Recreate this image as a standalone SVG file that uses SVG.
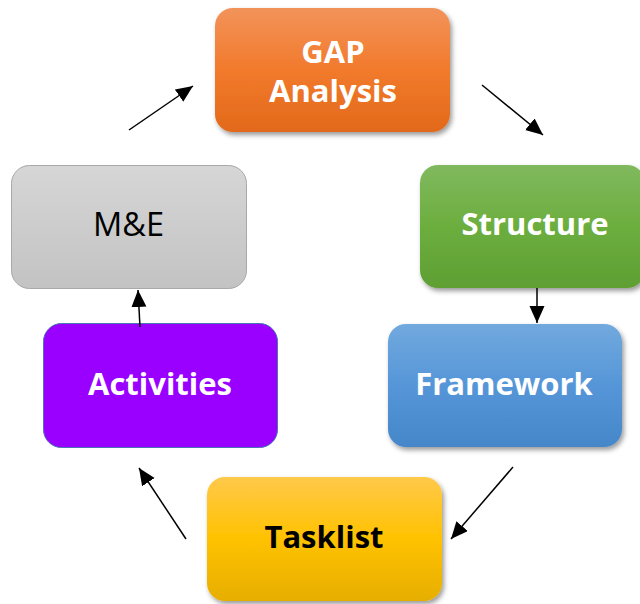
<svg xmlns="http://www.w3.org/2000/svg" width="640" height="604" viewBox="0 0 640 604">
<style>
.lbl{font-family:"Open Sans","Liberation Sans",sans-serif;font-size:31px;font-weight:bold;text-anchor:middle}
.w{fill:#ffffff}
.k{fill:#000000}
.reg{font-weight:normal;font-size:32.5px}
.conn line{stroke:#000;stroke-width:1.5;marker-end:url(#ah)}
</style>
<defs>
<marker id="ah" markerUnits="userSpaceOnUse" markerWidth="18" markerHeight="16" refX="17" refY="7.5" orient="auto">
<path d="M0,0 L17,7.5 L0,15 z" fill="#000"/>
</marker>
<filter id="sh" x="-10%" y="-10%" width="125%" height="130%">
<feDropShadow dx="2" dy="3" stdDeviation="2.5" flood-color="#000" flood-opacity="0.4"/>
</filter>
<linearGradient id="gOr" x1="0" y1="0" x2="0" y2="1"><stop offset="0" stop-color="#f2935a"/><stop offset="0.5" stop-color="#f27a2c"/><stop offset="1" stop-color="#e2691a"/></linearGradient>
<linearGradient id="gGr" x1="0" y1="0" x2="0" y2="1"><stop offset="0" stop-color="#80b95e"/><stop offset="0.5" stop-color="#6cae3e"/><stop offset="1" stop-color="#5f9f33"/></linearGradient>
<linearGradient id="gBl" x1="0" y1="0" x2="0" y2="1"><stop offset="0" stop-color="#72a9de"/><stop offset="0.5" stop-color="#5596d8"/><stop offset="1" stop-color="#4587c9"/></linearGradient>
<linearGradient id="gYe" x1="0" y1="0" x2="0" y2="1"><stop offset="0" stop-color="#ffc94a"/><stop offset="0.5" stop-color="#ffc200"/><stop offset="1" stop-color="#e6ae00"/></linearGradient>
<linearGradient id="gGy" x1="0" y1="0" x2="0" y2="1"><stop offset="0" stop-color="#d6d6d6"/><stop offset="1" stop-color="#c3c3c3"/></linearGradient>
</defs>
<g id="gap">
<rect x="215" y="8" width="235" height="124" rx="18" fill="url(#gOr)" filter="url(#sh)"/>
<text class="lbl w" x="333" y="63">GAP</text>
<text class="lbl w" x="333" y="102">Analysis</text>
</g>
<g id="structure">
<rect x="420" y="165" width="225" height="123" rx="18" fill="url(#gGr)" filter="url(#sh)"/>
<text class="lbl w" x="535" y="235">Structure</text>
</g>
<g id="framework">
<rect x="388" y="324" width="234" height="123" rx="18" fill="url(#gBl)" filter="url(#sh)"/>
<text class="lbl w" x="504" y="395">Framework</text>
</g>
<g id="tasklist">
<rect x="207" y="477" width="235" height="124" rx="18" fill="url(#gYe)" filter="url(#sh)"/>
<text class="lbl k" x="324" y="548">Tasklist</text>
</g>
<g id="activities">
<rect x="43.5" y="323.5" width="234" height="124" rx="18" fill="#9900ff" stroke="#4a74b4" stroke-width="1"/>
<text class="lbl w" x="160" y="395">Activities</text>
</g>
<g id="me">
<rect x="11.5" y="165.5" width="235" height="123" rx="18" fill="url(#gGy)" stroke="#a8a8a8" stroke-width="1"/>
<text class="lbl k reg" x="128.5" y="236">M&amp;E</text>
</g>
<g id="connectors" class="conn">
<line x1="482" y1="85" x2="543" y2="135"/>
<line x1="537" y1="288" x2="537" y2="323"/>
<line x1="513" y1="467" x2="451" y2="539"/>
<line x1="186" y1="539" x2="139" y2="468"/>
<line x1="140" y1="327" x2="138" y2="290"/>
<line x1="129" y1="130" x2="193" y2="86"/>
</g>
</svg>
